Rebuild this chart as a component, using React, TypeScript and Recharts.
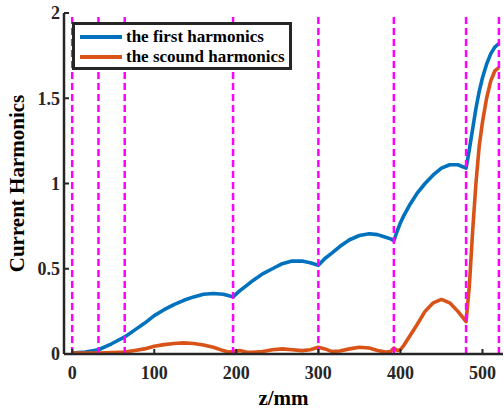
import { LineChart, Line, XAxis, YAxis, ReferenceLine, Legend } from "recharts";

// z positions (mm) and harmonic values
const zPositions = [
  0, 16, 32, 48, 64, 76, 88, 100, 112, 124, 136, 148, 160, 172, 184, 190, 196,
  204, 212, 220, 232, 244, 256, 268, 280, 290, 300, 308, 316, 326, 338, 350, 362,
  372, 382, 388, 392, 396, 400, 404, 412, 420, 430, 440, 450, 460, 470, 480, 484,
  488, 492, 496, 500, 505, 510, 515, 520,
];
const firstHarmonic = [
  0.005, 0.012, 0.025, 0.06, 0.1, 0.14, 0.18, 0.225, 0.26, 0.29, 0.315, 0.335, 0.35, 0.355, 0.35, 0.343, 0.335,
  0.37, 0.4, 0.43, 0.47, 0.5, 0.53, 0.545, 0.545, 0.535, 0.52, 0.56, 0.59, 0.63, 0.67, 0.695, 0.705,
  0.7, 0.685, 0.675, 0.665, 0.72, 0.77, 0.81, 0.88, 0.94, 1.0, 1.05, 1.09, 1.11, 1.11, 1.09, 1.2,
  1.32, 1.44, 1.54, 1.62, 1.7, 1.76, 1.8, 1.82,
];
const secondHarmonic = [
  0.005, 0.005, 0.005, 0.008, 0.012, 0.02, 0.03, 0.045, 0.055, 0.062, 0.065, 0.062, 0.053, 0.04, 0.02, 0.012, 0.015,
  0.02, 0.012, 0.01, 0.015, 0.025, 0.03, 0.025, 0.02, 0.025, 0.04, 0.03, 0.015, 0.018, 0.03, 0.04, 0.035,
  0.02, 0.012, 0.015, 0.035, 0.02, 0.025, 0.05, 0.11, 0.17, 0.25, 0.3, 0.32, 0.3, 0.25, 0.19, 0.4,
  0.72, 1.0, 1.22, 1.36, 1.5, 1.6, 1.66, 1.68,
];
const boundaries = [0, 32, 64, 196, 300, 392, 480, 520];
const xTicks = [0, 100, 200, 300, 400, 500];
const yTicks = [0, 0.5, 1, 1.5, 2];

const chartData = zPositions.map((z, i) => ({
  z,
  first: firstHarmonic[i],
  second: secondHarmonic[i],
}));

const xDomain: [number, number] = [-10, 525];
const yDomain: [number, number] = [0, 2];
const axisColor = "#262626";
const font = "'Liberation Serif', 'Times New Roman', serif";

const tickStyle = { fill: axisColor, fontSize: 18, fontWeight: "bold", fontFamily: font };
const axisLine = { stroke: axisColor, strokeWidth: 2.5 };
const tickLine = { stroke: axisColor, strokeWidth: 2 };

const LegendBox = ({ payload }: any) => (
  <div
    style={{
      boxSizing: "border-box",
      width: 220,
      height: 48,
      border: `3px solid ${axisColor}`,
      background: "#fff",
      paddingTop: 2,
    }}
  >
    {(payload || []).map((entry: any) => (
      <div key={entry.value} style={{ display: "flex", alignItems: "center", height: 20 }}>
        <div style={{ width: 42, height: 4, marginLeft: 5, background: entry.color }} />
        <span
          style={{
            marginLeft: 4,
            fontFamily: font,
            fontWeight: "bold",
            fontSize: 17,
            color: "#000",
            whiteSpace: "nowrap",
            lineHeight: "20px",
          }}
        >
          {entry.value}
        </span>
      </div>
    ))}
  </div>
);

export default function App() {
  return (
    <div style={{ position: "absolute", left: 0, top: 0, width: 504, height: 409, background: "#fff" }}>
      <LineChart width={504} height={409} data={chartData} margin={{ top: 13, right: 1, bottom: 0, left: 0 }}>
        <XAxis
          dataKey="z"
          type="number"
          domain={xDomain}
          ticks={xTicks}
          allowDataOverflow
          height={55}
          tick={tickStyle}
          tickSize={-5}
          tickMargin={17}
          axisLine={axisLine}
          tickLine={tickLine}
          label={{
            value: "z/mm",
            position: "insideBottom",
            offset: 4,
            style: { fill: "#000", fontSize: 21, fontWeight: "bold", fontFamily: font },
          }}
        />
        <XAxis
          xAxisId="top"
          orientation="top"
          dataKey="z"
          type="number"
          domain={xDomain}
          ticks={xTicks}
          allowDataOverflow
          height={0}
          tick={false}
          tickSize={-5}
          axisLine={axisLine}
          tickLine={tickLine}
        />
        <YAxis
          type="number"
          domain={yDomain}
          ticks={yTicks}
          allowDataOverflow
          width={64}
          tick={tickStyle}
          tickSize={-5}
          tickMargin={9}
          axisLine={axisLine}
          tickLine={tickLine}
          label={{
            value: "Current Harmonics",
            angle: -90,
            position: "insideLeft",
            offset: 17,
            style: { textAnchor: "middle", fill: "#000", fontSize: 21, fontWeight: "bold", fontFamily: font },
          }}
        />
        <YAxis
          yAxisId="right"
          orientation="right"
          type="number"
          domain={yDomain}
          ticks={yTicks}
          allowDataOverflow
          width={0}
          tick={false}
          tickSize={-5}
          axisLine={axisLine}
          tickLine={tickLine}
        />
        <Line
          dataKey="first"
          name="the first harmonics"
          type="linear"
          stroke="#0072BD"
          strokeWidth={3.6}
          strokeLinejoin="round"
          dot={false}
          isAnimationActive={false}
        />
        <Line
          dataKey="second"
          name="the scound harmonics"
          type="linear"
          stroke="#D95319"
          strokeWidth={3.6}
          strokeLinejoin="round"
          dot={false}
          isAnimationActive={false}
        />
        {boundaries.map((b) => (
          <ReferenceLine key={b} x={b} stroke="#FF00FF" strokeWidth={2.5} strokeDasharray="7 4" />
        ))}
        <Legend
          layout="vertical"
          align="center"
          verticalAlign="middle"
          wrapperStyle={{ left: 72, top: 22, width: 220, height: 48 }}
          content={<LegendBox />}
        />
      </LineChart>
    </div>
  );
}
